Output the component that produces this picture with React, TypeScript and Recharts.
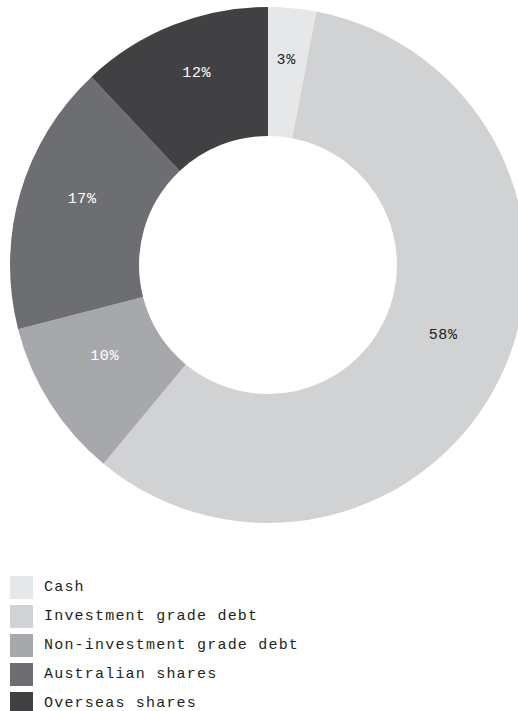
import { PieChart, Pie, Cell, Legend } from "recharts";

// asset allocation, clockwise from 12 o'clock
const categories = [
    "Cash",
    "Investment grade debt",
    "Non-investment grade debt",
    "Australian shares",
    "Overseas shares",
];
const shares = [3, 58, 10, 17, 12];

const sliceColors = ["#e6e7e8", "#d1d2d4", "#a7a8ab", "#6d6e71", "#414042"];
const labelColors = ["#231f20", "#231f20", "#ffffff", "#ffffff", "#ffffff"];

const data = categories.map((name, i) => ({ name, value: shares[i] }));

const FONT = "'Liberation Mono', 'DejaVu Sans Mono', monospace";
const RADIAN = Math.PI / 180;

function renderLabel(props: any) {
    const { cx, cy, midAngle, innerRadius, outerRadius, index, value } = props;
    const r = (innerRadius + outerRadius) / 2;
    const x = cx + r * Math.cos(-midAngle * RADIAN);
    const y = cy + r * Math.sin(-midAngle * RADIAN) - 12;
    return (
        <text
            x={x}
            y={y}
            fill={labelColors[index]}
            textAnchor="middle"
            dominantBaseline="central"
            fontFamily={FONT}
            fontSize={15}
            letterSpacing={0.6}
        >
            {value}%
        </text>
    );
}

function renderLegend() {
    return (
        <ul style={{ listStyle: "none", margin: 0, padding: 0 }}>
            {categories.map((name, i) => (
                <li
                    key={name}
                    style={{ display: "flex", alignItems: "center", height: 29 }}
                >
                    <span
                        style={{
                            display: "inline-block",
                            width: 23,
                            height: 23,
                            background: sliceColors[i],
                            marginRight: 11,
                        }}
                    />
                    <span
                        style={{
                            fontFamily: FONT,
                            fontSize: 15,
                            letterSpacing: 1.2,
                            color: "#231f20",
                        }}
                    >
                        {name}
                    </span>
                </li>
            ))}
        </ul>
    );
}

export default function App() {
    return (
        <div
            style={{
                position: "fixed",
                left: 0,
                top: 0,
                width: 518,
                height: 711,
                overflow: "hidden",
                background: "#fff",
            }}
        >
            <PieChart
                width={518}
                height={711}
                margin={{ top: 0, right: 0, bottom: 0, left: 0 }}
            >
                <Pie
                    data={data}
                    dataKey="value"
                    nameKey="name"
                    cx={268}
                    cy={265}
                    innerRadius={129}
                    outerRadius={258}
                    startAngle={90}
                    endAngle={-270}
                    stroke="none"
                    label={renderLabel}
                    labelLine={false}
                    isAnimationActive={false}
                >
                    {data.map((d, i) => (
                        <Cell key={d.name} fill={sliceColors[i]} />
                    ))}
                </Pie>
                <Legend
                    content={renderLegend}
                    wrapperStyle={{ position: "absolute", left: 10, top: 573, width: 400 }}
                />
            </PieChart>
        </div>
    );
}
